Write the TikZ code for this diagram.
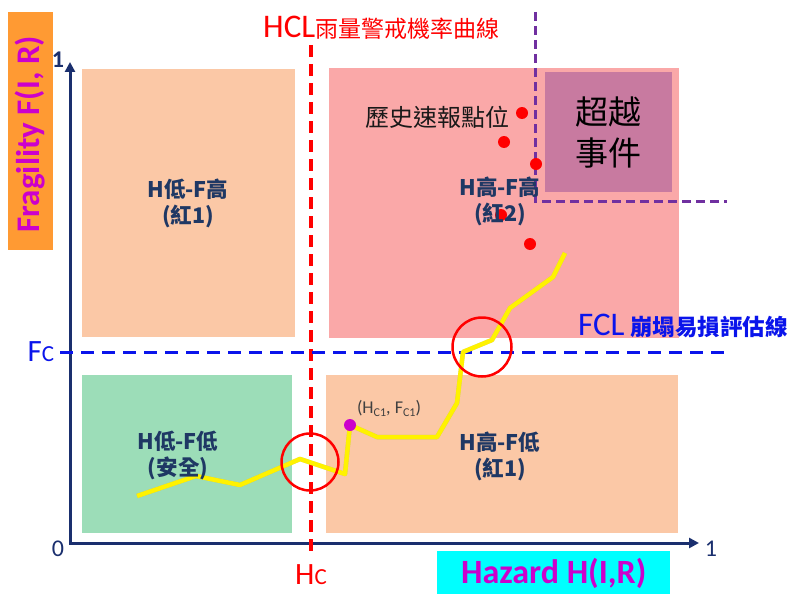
\documentclass[tikz,border=0pt]{standalone}
\usepackage{fontspec}
\setmainfont{Carlito}
\newfontfamily\cjk{Noto Sans CJK TC}
\usetikzlibrary{arrows.meta}
\definecolor{peach}{RGB}{251,200,166}
\definecolor{pinkbox}{RGB}{250,168,168}
\definecolor{purplebox}{RGB}{200,122,160}
\definecolor{greenbox}{RGB}{156,221,184}
\definecolor{navy}{RGB}{26,47,110}
\definecolor{navytext}{RGB}{31,56,100}
\definecolor{orangebox}{RGB}{255,154,51}
\definecolor{cyanbox}{RGB}{0,255,255}
\definecolor{magtext}{RGB}{204,0,204}
\definecolor{purpledash}{RGB}{112,48,160}
\definecolor{bluefcl}{RGB}{10,20,235}
\definecolor{redline}{RGB}{255,0,0}
\tikzset{
  region/.style={draw=none, inner sep=0pt, anchor=north west},
  regtext/.style={font=\cjk\bfseries\fontsize{21.5}{26}\selectfont, text=navytext, align=center},
  axis/.style={draw=navy, line width=3pt},
  hcl/.style={draw=redline, line width=3.5pt, dash pattern=on 12pt off 7pt},
  fcl/.style={draw=bluefcl, line width=3pt, dash pattern=on 13pt off 8pt},
  exceed/.style={draw=purpledash, line width=3pt, dash pattern=on 9pt off 5pt},
  yel/.style={draw=yellow, line width=4.5pt, line join=round},
  yelshadow/.style={draw=black!40, opacity=0.5, line width=4.5pt, line join=round},
  ring/.style={draw=redline, line width=2.5pt, circle, inner sep=0pt, minimum size=57pt},
  dot/.style={fill=redline, circle, inner sep=0pt, minimum size=12pt},
  ticklab/.style={font=\fontsize{24}{24}\selectfont, text=navy, inner sep=0pt},
}
\begin{document}
\begin{tikzpicture}[x=1pt,y=-1pt]
\useasboundingbox (0,0) rectangle (795,594);
\fill[white] (0,0) rectangle (795,594);
% regions
\node[region, fill=peach, minimum width=213pt, minimum height=268pt] (tl) at (82,69) {};
\node[region, fill=pinkbox, minimum width=350pt, minimum height=270pt] (tr) at (329,68) {};
\node[region, fill=purplebox, minimum width=127pt, minimum height=120pt] (ex) at (545,72) {};
\node[region, fill=greenbox, minimum width=210pt, minimum height=158pt] (bl) at (82,375) {};
\node[region, fill=peach, minimum width=352pt, minimum height=158pt] (br) at (326,375) {};
% axis labels boxes
\node[region, fill=orangebox, minimum width=45pt, minimum height=238pt] (fbox) at (8,12) {};
\node[region, fill=cyanbox, minimum width=233pt, minimum height=44pt] (hbox) at (437,551) {};
\node[rotate=90, font=\bfseries\fontsize{33}{33}\selectfont, text=magtext] (flab) at ([xshift=-1pt,yshift=-3pt]fbox.center) {Fragility F(I, R)};
\node[font=\bfseries\fontsize{34}{34}\selectfont, text=magtext] (hlab) at (hbox.center) {Hazard H(I,R)};
% axes
\coordinate (O) at (70,543);
\coordinate (ytip) at (70,62);
\coordinate (xtip) at (699,543);
\draw[axis, {Triangle[length=10pt,width=10pt]}-{Triangle[length=10pt,width=10pt]}] (ytip) -- (O) -- (xtip);
\node[ticklab, font=\bfseries\fontsize{24}{24}\selectfont] (one_y) at (58,60) {1};
\node[ticklab] (one_x) at (711,549) {1};
\node[ticklab] (zero) at (58,549) {0};
% HCL line
\coordinate (hcltop) at (311,45);
\coordinate (hclbot) at (311,556);
\draw[hcl] (hcltop) -- (hclbot);
\node[anchor=base west, inner sep=0pt, text=redline] (hcllab) at (263,38) {{\fontsize{33}{33}\selectfont HCL}{\cjk\fontsize{23}{23}\selectfont 雨量警戒機率曲線}};
\node[anchor=base, inner sep=0pt, text=redline] (hc) at (311,584) {{\fontsize{31}{31}\selectfont H}{\fontsize{23}{23}\selectfont C}};
% FCL line
\coordinate (fclleft) at (60,352);
\coordinate (fclright) at (726,352);
\draw[fcl] (fclleft) -- (fclright);
\node[anchor=base west, inner sep=0pt, text=bluefcl] (fcllab) at (578,335) {{\fontsize{33}{33}\selectfont FCL\,}{\cjk\bfseries\fontsize{22.5}{22.5}\selectfont 崩塌易損評估線}};
\node[anchor=base, inner sep=0pt, text=bluefcl] (fc) at (41,361) {{\fontsize{31}{31}\selectfont F}{\fontsize{23}{23}\selectfont C}};
% exceedance dashed lines
\coordinate (e1) at (535,12);
\coordinate (e2) at (535,201);
\coordinate (e3) at (727,201);
\draw[exceed] (e1) -- (e2) -- (e3);
% yellow trajectory
\coordinate (p1) at (137,496);
\coordinate (p2) at (196,476);
\coordinate (p3) at (240,485);
\coordinate (p4) at (300,459);
\coordinate (p5) at (345,474);
\coordinate (p6) at (350,425);
\coordinate (p7) at (377,437);
\coordinate (p8) at (437,437);
\coordinate (p9) at (457,403);
\coordinate (p10) at (463,352);
\coordinate (p11) at (492,340);
\coordinate (p12) at (510,308);
\coordinate (p13) at (553,277);
\coordinate (p14) at (565,253);
\begin{scope}[shift={(1.5,1.5)}]
\draw[yelshadow] (p1) -- (p2) -- (p3) -- (p4) -- (p5) -- (p6) -- (p7) -- (p8) -- (p9) -- (p10) -- (p11) -- (p12) -- (p13) -- (p14);
\end{scope}
\draw[yel] (p1) -- (p2) -- (p3) -- (p4) -- (p5) -- (p6) -- (p7) -- (p8) -- (p9) -- (p10) -- (p11) -- (p12) -- (p13) -- (p14);
% rings
\node[ring] (ring1) at (310,462) {};
\node[ring, minimum size=59pt] (ring2) at (482,347) {};
% critical point
\node[circle, fill=magtext, inner sep=0pt, minimum size=12pt] (cp) at (p6) {};
\node[font=\fontsize{18}{18}\selectfont, text=black!75] (cplab) at (389,408) {(H\raisebox{-0.35ex}{\fontsize{12}{12}\selectfont C1}, F\raisebox{-0.35ex}{\fontsize{12}{12}\selectfont C1})};
% historical points
\node[dot] (d1) at (522,113) {};
\node[dot] (d2) at (504,142) {};
\node[dot] (d3) at (536,164) {};
\node[dot] (d4) at (501,215) {};
\node[dot] (d5) at (530,244) {};
\node[font=\cjk\fontsize{24}{24}\selectfont, text=black!90] (hist) at (437,117) {歷史速報點位};
% region texts
\node[regtext] (ttl) at (188,203) {H低-F高\\(紅1)};
\node[regtext] (ttr) at (500,201) {H高-F高\\(紅2)};
\node[regtext] (tbl) at (178,455) {H低-F低\\(安全)};
\node[regtext] (tbr) at (500,456) {H高-F低\\(紅1)};
\node[font=\cjk\fontsize{33}{41}\selectfont, text=black, align=center] (extext) at (608,133) {超越\\事件};
\end{tikzpicture}
\end{document}
